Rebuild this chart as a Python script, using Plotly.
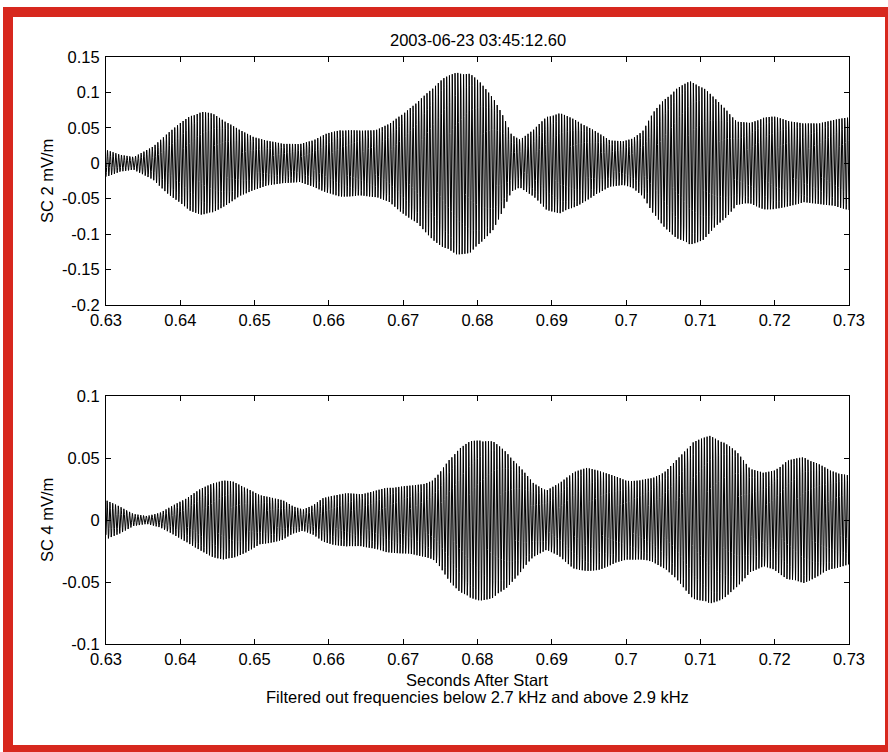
import numpy as np
import plotly.graph_objects as go
from plotly.subplots import make_subplots

# ---- data ----
title_text = "2003-06-23 03:45:12.60"
caption = "Filtered out frequencies below 2.7 kHz and above 2.9 kHz"
carrier_hz = 2650.0  # apparent wave frequency (filter band 2.7-2.9 kHz)

# SC 2 envelope (time in s, amplitude in mV/m)
sc2_env_t = [0.6301, 0.6319, 0.6337, 0.6350, 0.6364, 0.6382, 0.6399, 0.6413, 0.6429, 0.6444,
             0.6462, 0.6480, 0.6498, 0.6516, 0.6538, 0.6561, 0.6579, 0.6597, 0.6615, 0.6628,
             0.6645, 0.6665, 0.6682, 0.6696, 0.6718, 0.6740, 0.6754, 0.6772, 0.6790, 0.6803,
             0.6821, 0.6835, 0.6846, 0.6857, 0.6875, 0.6893, 0.6911, 0.6933, 0.6956, 0.6978,
             0.6996, 0.7009, 0.7023, 0.7036, 0.7050, 0.7068, 0.7086, 0.7104, 0.7122, 0.7136,
             0.7149, 0.7167, 0.7185, 0.7199, 0.7221, 0.7239, 0.7257, 0.7275, 0.7300]
sc2_env_a = [0.019, 0.012, 0.009, 0.016, 0.024, 0.042, 0.056, 0.067, 0.073, 0.070,
             0.059, 0.047, 0.038, 0.032, 0.028, 0.027, 0.033, 0.042, 0.047, 0.047,
             0.046, 0.048, 0.056, 0.068, 0.085, 0.108, 0.120, 0.129, 0.127, 0.115,
             0.094, 0.066, 0.040, 0.034, 0.047, 0.066, 0.071, 0.061, 0.047, 0.033,
             0.031, 0.035, 0.047, 0.071, 0.089, 0.106, 0.116, 0.108, 0.089, 0.075,
             0.059, 0.057, 0.065, 0.066, 0.060, 0.056, 0.057, 0.060, 0.066]

# SC 4 envelope
sc4_env_t = [0.6301, 0.6319, 0.6337, 0.6355, 0.6373, 0.6391, 0.6409, 0.6427, 0.6444, 0.6458,
             0.6471, 0.6489, 0.6507, 0.6525, 0.6538, 0.6552, 0.6565, 0.6579, 0.6592, 0.6606,
             0.6624, 0.6642, 0.6659, 0.6677, 0.6696, 0.6714, 0.6731, 0.6740, 0.6749, 0.6763,
             0.6776, 0.6790, 0.6803, 0.6821, 0.6839, 0.6857, 0.6875, 0.6893, 0.6911, 0.6929,
             0.6947, 0.6965, 0.6982, 0.7000, 0.7018, 0.7036, 0.7054, 0.7072, 0.7090, 0.7113,
             0.7131, 0.7149, 0.7167, 0.7185, 0.7199, 0.7217, 0.7239, 0.7257, 0.7275, 0.7300]
sc4_env_a = [0.0157, 0.0108, 0.0049, 0.0032, 0.006, 0.012, 0.018, 0.025, 0.030, 0.032,
             0.031, 0.026, 0.020, 0.018, 0.016, 0.011, 0.0086, 0.012, 0.0176, 0.020,
             0.0216, 0.021, 0.023, 0.026, 0.027, 0.028, 0.030, 0.032, 0.038, 0.050,
             0.058, 0.0635, 0.065, 0.0635, 0.055, 0.043, 0.030, 0.024, 0.030, 0.039,
             0.042, 0.040, 0.036, 0.032, 0.032, 0.034, 0.040, 0.051, 0.0635, 0.068,
             0.0635, 0.055, 0.042, 0.038, 0.040, 0.048, 0.051, 0.046, 0.040, 0.036]

x_ticks = [0.63, 0.64, 0.65, 0.66, 0.67, 0.68, 0.69, 0.70, 0.71, 0.72, 0.73]
x_tick_text = ["0.63", "0.64", "0.65", "0.66", "0.67", "0.68", "0.69", "0.7", "0.71", "0.72", "0.73"]
y1_ticks = [0.15, 0.1, 0.05, 0, -0.05, -0.1, -0.15, -0.2]
y1_tick_text = ["0.15", "0.1", "0.05", "0", "-0.05", "-0.1", "-0.15", "-0.2"]
y2_ticks = [0.1, 0.05, 0, -0.05, -0.1]
y2_tick_text = ["0.1", "0.05", "0", "-0.05", "-0.1"]

# ---- waveform built from envelope x carrier ----
fs = 40000.0
t = np.arange(0.63, 0.73 + 1e-9, 1.0 / fs)
w2 = np.interp(t, sc2_env_t, sc2_env_a) * np.cos(2 * np.pi * carrier_hz * t)
w4 = np.interp(t, sc4_env_t, sc4_env_a) * np.cos(2 * np.pi * carrier_hz * t + 0.7)

W, H = 888, 752
L, R, T, B = 106, 849, 57, 644
fig = make_subplots(rows=2, cols=1, vertical_spacing=91 / (B - T))
fig.add_trace(go.Scatter(x=t, y=w2, mode="lines", line=dict(color="black", width=1),
                         showlegend=False, hoverinfo="skip"), row=1, col=1)
fig.add_trace(go.Scatter(x=t, y=w4, mode="lines", line=dict(color="black", width=1),
                         showlegend=False, hoverinfo="skip"), row=2, col=1)

FS = 16.5
font = dict(family="Liberation Sans, Arial", size=FS, color="black")
axis_common = dict(showline=True, linecolor="black", linewidth=1, mirror="ticks",
                   ticks="inside", ticklen=5, tickcolor="black", showgrid=False, zeroline=False,
                   tickfont=font)
for r in (1, 2):
    fig.update_xaxes(range=[0.63, 0.73], tickvals=x_ticks, ticktext=x_tick_text,
                     ticklabelstandoff=0, **axis_common, row=r, col=1)
fig.update_yaxes(range=[-0.2, 0.15], tickvals=y1_ticks, ticktext=y1_tick_text,
                 ticklabelstandoff=2, **axis_common, row=1, col=1)
fig.update_yaxes(range=[-0.1, 0.1], tickvals=y2_ticks, ticktext=y2_tick_text,
                 ticklabelstandoff=2, **axis_common, row=2, col=1)

def px(xp):
    return (xp - L) / (R - L)

def py(yp):
    return (B - yp) / (B - T)

red = "#d7281e"
shapes = []
for (x0, y0, x1, y1) in [(3, 7, 13, 752), (3, 7, 888, 17), (885, 7, 888, 752), (3, 745, 888, 752)]:
    shapes.append(dict(type="rect", xref="paper", yref="paper", x0=px(x0), x1=px(x1),
                       y0=py(y1), y1=py(y0), fillcolor=red, line=dict(width=0), layer="below"))

ann = [
    dict(text=title_text, x=px(478), y=py(40), xref="paper", yref="paper", showarrow=False,
         font=font, xanchor="center", yanchor="middle"),
    dict(text="SC 2 mV/m", x=px(47), y=py(181), xref="paper", yref="paper", showarrow=False,
         font=font, textangle=-90, xanchor="center", yanchor="middle"),
    dict(text="SC 4 mV/m", x=px(47), y=py(520), xref="paper", yref="paper", showarrow=False,
         font=font, textangle=-90, xanchor="center", yanchor="middle"),
    dict(text="Seconds After Start", x=px(478), y=py(680), xref="paper", yref="paper",
         showarrow=False, font=font, xanchor="center", yanchor="middle"),
    dict(text=caption, x=px(478), y=py(697), xref="paper", yref="paper",
         showarrow=False, font=font, xanchor="center", yanchor="middle"),
]

fig.update_layout(width=W, height=H, margin=dict(l=L, r=W - R, t=T, b=H - B, pad=0),
                  paper_bgcolor="white", plot_bgcolor="white", shapes=shapes, annotations=ann,
                  font=font)
fig.write_html("out.html", config={"displayModeBar": False},
               post_script="document.body.style.margin='0';document.body.style.overflow='hidden';")
